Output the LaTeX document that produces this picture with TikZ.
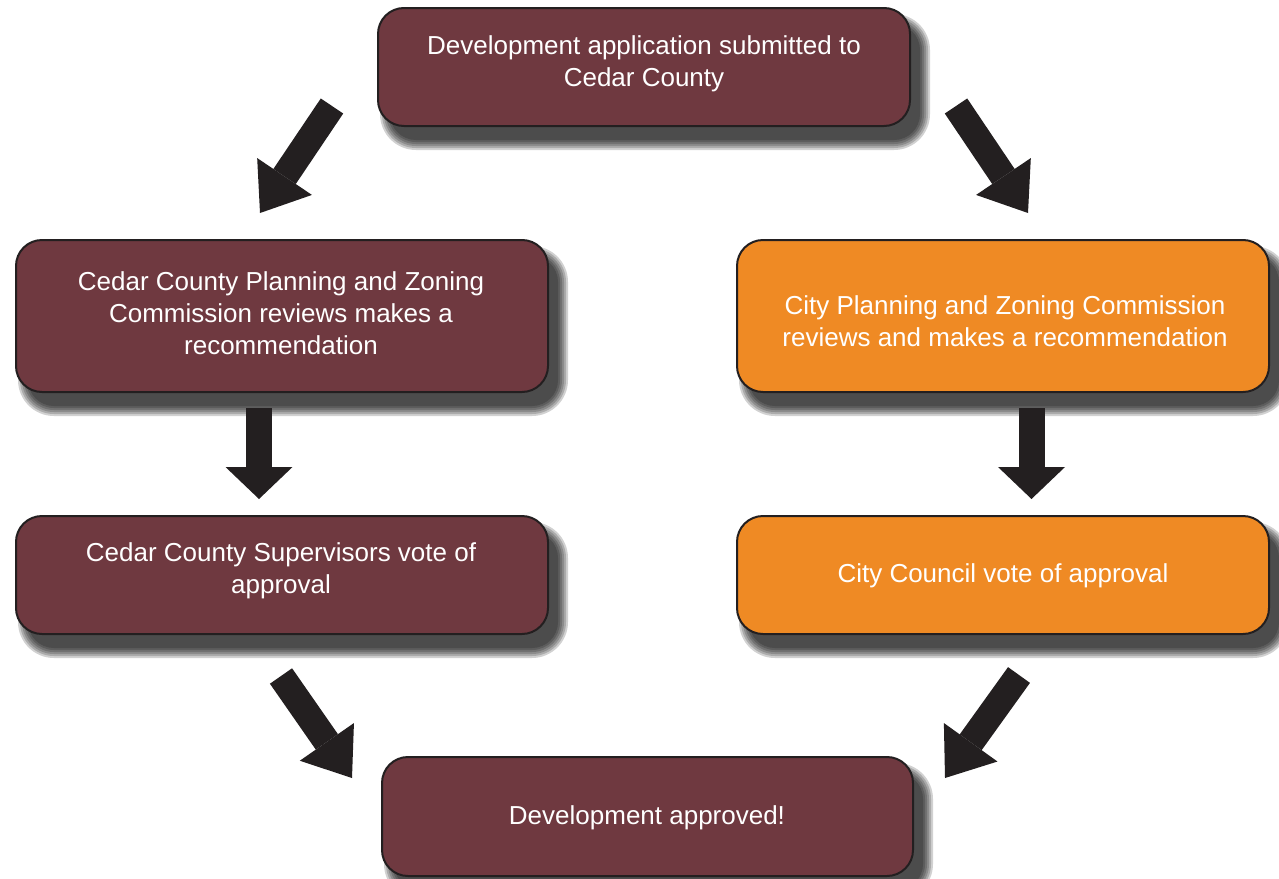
\documentclass[tikz,border=0pt]{standalone}
\usepackage{fontspec}
\setmainfont{Liberation Sans}
\usetikzlibrary{arrows.meta}
\definecolor{maroon}{HTML}{6F3940}
\definecolor{orng}{HTML}{EF8A24}
\definecolor{ink}{HTML}{231F20}
\newcommand\boxshadow[4]{%
  \foreach \r in {0,2,...,10}{%
    \fill[black,opacity=0.18,rounded corners=26pt+\r pt]
      ({#1-#3/2+12-\r},{#2-#4/2+16-\r}) rectangle ({#1+#3/2+10+\r},{#2+#4/2+14+\r});}}
\tikzset{
  box/.style={draw=ink, line width=2pt, rounded corners=26pt, inner sep=0pt,
    minimum width=532pt},
  redbox/.style={box, fill=maroon},
  orbox/.style={box, fill=orng},
  lbl/.style={text=white, align=center, inner sep=0pt,
    font=\fontsize{26}{32}\selectfont},
  diag/.style={draw=ink, line width=27pt,
    -{Triangle[width=66pt,length=44pt,line width=0pt]}},
  vert/.style={draw=ink, line width=26pt,
    -{Triangle[width=67pt,length=32pt,line width=0pt]}}
}
\begin{document}
\begin{tikzpicture}[x=1pt,y=-1pt]
\useasboundingbox[fill=white] (0,0) rectangle (1279,878);
% shadows
\boxshadow{644}{67}{532}{118}
\boxshadow{282}{316}{532}{152}
\boxshadow{1003}{316}{532}{152}
\boxshadow{282}{575}{532}{118}
\boxshadow{1003}{575}{532}{118}
\boxshadow{647.5}{816.5}{531}{119}
% boxes
\node[redbox, minimum height=118pt] (b1) at (644,67) {};
\node[redbox, minimum height=152pt] (b2) at (282,316) {};
\node[orbox, minimum height=152pt] (b3) at (1003,316) {};
\node[redbox, minimum height=118pt] (b4) at (282,575) {};
\node[orbox, minimum height=118pt] (b5) at (1003,575) {};
\node[redbox, minimum height=119pt, minimum width=531pt] (b6) at (647.5,816.5) {};
% labels
\node[lbl] (t1) at (644,64) {Development application submitted to\\Cedar County};
\node[lbl] (t2) at (281,313) {Cedar County Planning and Zoning\\Commission reviews makes a\\recommendation};
\node[lbl] (t3) at (1005,321) {City Planning and Zoning Commission\\reviews and makes a recommendation};
\node[lbl] (t4) at (281,571) {Cedar County Supervisors vote of\\approval};
\node[lbl] (t5) at (1003,576) {City Council vote of approval};
\node[lbl] (t6) at (647,818) {Development approved!};
% arrow end points
\coordinate (a1s) at (332,106); \coordinate (a1e) at (260,213);
\coordinate (a2s) at (956,106); \coordinate (a2e) at (1028,213);
\coordinate (a3s) at (259,408); \coordinate (a3e) at (259,499);
\coordinate (a4s) at (1031.5,408); \coordinate (a4e) at (1031.5,499);
\coordinate (a5s) at (281,676); \coordinate (a5e) at (352,778);
\coordinate (a6s) at (1019,675); \coordinate (a6e) at (945,778);
\draw[diag] (a1s) -- (a1e);
\draw[diag] (a2s) -- (a2e);
\draw[vert] (a3s) -- (a3e);
\draw[vert] (a4s) -- (a4e);
\draw[diag] (a5s) -- (a5e);
\draw[diag] (a6s) -- (a6e);
\end{tikzpicture}
\end{document}
